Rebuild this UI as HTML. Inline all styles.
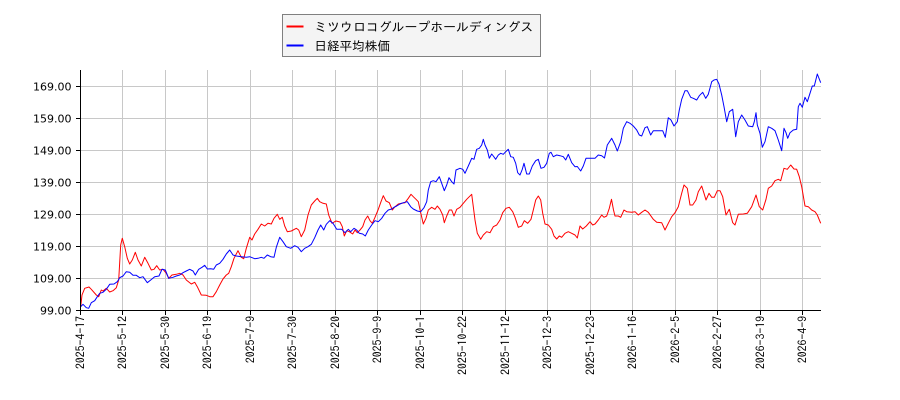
<!DOCTYPE html>
<html><head><meta charset="utf-8"><style>
html,body{margin:0;padding:0;background:#fff;}
svg{display:block;}
.yl{font-family:"DejaVu Sans","Liberation Sans",sans-serif;font-size:11px;fill:#000;}
.xl{font-family:"IPAGothic","DejaVu Sans",sans-serif;font-size:11.7px;fill:#000;}
.lg{font-family:"IPAGothic","Noto Sans CJK JP",sans-serif;font-size:12.6px;fill:#000;}
</style></head><body>
<svg width="900" height="400" viewBox="0 0 900 400" xmlns="http://www.w3.org/2000/svg">
<rect width="900" height="400" fill="#fff"/>
<g stroke="#c8c8c8" stroke-width="1" fill="none">
<path d="M122.5 70V310M165.5 70V310M207.5 70V310M250.5 70V310M292.5 70V310M335.5 70V310M377.5 70V310M420.5 70V310M462.5 70V310M505.5 70V310M547.5 70V310M590.5 70V310M632.5 70V310M675.5 70V310M717.5 70V310M760.5 70V310M802.5 70V310"/>
<path d="M80.5 86.5H821M80.5 118.5H821M80.5 150.5H821M80.5 182.5H821M80.5 214.5H821M80.5 246.5H821M80.5 278.5H821"/>
</g>
<polyline fill="none" stroke="#ff0000" stroke-width="1" stroke-linejoin="round" points="80.7,306.7 82,295 84.7,288.3 89,287 91.3,289.3 96.3,295 98.7,296.7 101.3,290 103,291 106.3,288.3 109.7,292 113,290.7 116.3,287.7 118.7,280 120.7,245 122.3,238.3 124.7,246.7 127.3,258.3 129.7,264 132.3,260 135.3,252.3 138,260 141.3,266 144.7,257.3 148,263.3 151.3,270 154,269.3 156.7,265.7 159.7,270 163,269.3 166.3,273.3 168.7,278.3 172,275 176.3,274.3 179.7,273.3 183,275 186.3,280 191.3,284 194.7,282.3 197.3,286.7 201.3,295 206.3,295.3 209.7,296.7 213,296.7 216.3,291.7 219.7,285 223,279 226.3,275 228.7,273.3 231.3,266.7 234,258.3 238,250.7 241.3,257.3 243.7,258.7 246.3,248.3 249.7,237.3 252,240 254.7,234 258,229.3 261.3,224 264.7,226 268,223.3 271.3,224 274,218.3 277.3,214.3 279.7,219.3 282.3,217.3 284.7,226 287.3,231.7 291.3,231 296.3,228.3 298.7,230 301.3,236.7 304.7,230 308,215 311.3,205 314.7,201 317.3,198.3 319.7,201.7 323,203.3 326.3,204 328.7,215 332,223.3 334.7,221.7 336,221 340,222 342.3,226.7 344.3,236 346.7,230.7 349.3,231.7 352.7,234 355,230 357.3,232.7 360,230 362.7,226.7 365,220 367.7,216 370,220.7 372.3,223.3 375,217.3 378.3,209.3 381,201.7 383.3,195.7 386,201 389.3,202.7 392.3,210 395,206.7 398.3,204 401.7,203.3 405,202.7 408.3,198.3 411,194.3 413.3,196.7 416,199.3 418.3,201.7 420.7,212.7 423.3,224 426,218.3 428.3,210 431.7,207.3 435,209.3 437.3,206 440,209.3 442.7,215 444.3,222.7 446.7,216 449.3,210 451.7,210 454,216 456.7,209.3 460,207.3 463.3,203.3 466.7,199.3 469.3,196.7 471.7,194.3 473.3,206.7 475,220 477.3,233.3 480.7,239.3 483.3,235 486.7,231.7 490,232.7 493.3,226.7 496.7,225 500,220 502.7,212.7 506,208.3 509.3,207.3 512.7,211.7 515,217.3 518.3,227.3 521.7,226 524.3,220.7 527.7,223.3 531,219.3 533.3,210 535.7,200 538.3,196 540.7,200 542.7,213.3 545,224 548.3,225 551.7,229.3 554,236 556.7,239 559.3,236 561.7,237.3 565,233.3 568.3,231.7 571.7,233.3 575,235 577.3,238 580,226 582.7,229 586.3,226 590,221.7 592.7,225 595,224 598.3,220 601.7,215 604,217.3 606.7,216 609.3,208.3 611.5,199.3 613.5,210 615,216 618.3,216 620.7,217.3 624,210 626.7,211.7 631.7,212.3 635,211.7 638.3,215 641.7,212.3 645,210 648.3,212.3 653.3,219.3 656.7,222.3 661.7,222.7 665,230 668.3,223.3 671.7,216.7 675,212.7 678.3,206.7 681.7,193.3 684,185 687.3,188.3 690,205 692.7,205 696,200 698.3,191.7 701.7,186 704,193.3 706,200 709,193.3 711.7,197.3 714.3,197.3 717.3,190.7 720,190.7 722.7,196.7 726,215 729.3,209.3 732.7,222.7 735,225 738.3,214.3 743.3,214 747.3,213.3 751.7,206.7 756,195 759.3,206.7 762.7,210 766,199.3 768.3,188.3 771.7,186 775,180.7 778.3,179.3 780.7,180.7 784,168.3 787.3,169.3 790.7,165 794,169 796.7,169.3 799.3,176.7 801.7,186.7 805,206 808.3,206.7 811.7,210 815,211.7 817.3,215 820.7,223.3"/>
<polyline fill="none" stroke="#0000ff" stroke-width="1" stroke-linejoin="round" points="80.7,306.7 83,304.3 86.3,307.7 88.7,308.3 91.3,302.7 94.7,300.7 97.3,296.7 99.7,293.3 103,292.3 106.3,289.3 109.7,284.3 114,284 117.3,281.7 119.7,277.7 123,276 126.3,271.7 129.7,272.3 133,275.3 136.3,275.3 139.7,277.7 143,276.7 147.3,282.7 150.7,280 154.7,276.7 159,276 162,269.3 165.3,270 168.7,278.3 173,277.3 176.3,276 179.7,275 183,272.7 186.3,271 189.7,269.3 193,271 195.3,275 198.7,269.3 202,267.3 204.7,265.3 207.3,269 210.7,268.7 213.7,269.3 216.3,265 219.7,263.3 223,259.3 226.3,254 229.7,250 233,255 236.3,256 241.3,256.7 246.3,257.3 249.7,256.7 254.7,258.7 258,258.3 261.3,257.3 264,258.3 267.3,255 270.7,256.7 274,257.3 276.3,247.3 279.7,237.3 283,241.7 286.3,246.7 290.7,248.3 294.7,245.7 298,247.3 301.3,251.7 304.7,248.3 308,246.7 311.3,244.3 314.7,237.7 318,230 320.7,225 323.7,230 326.3,224.3 329.7,220.7 333,223.3 336.7,229.3 341.7,229.3 345,232.7 348.3,229.3 350.7,231.7 354,228.3 356.7,230 359.3,233.3 362.7,234 365.3,236 368.3,230 371.7,225 375,220.7 378.3,221.7 381.7,218.3 385,213.3 388.3,210 391.7,209 394,207.3 396.7,206 400,204 403.3,202.7 407.3,201.7 410.7,206.7 413.3,209 417.3,211 420.7,211.7 424,207.7 426.7,201.7 428.3,190 430.7,181.7 433.3,180.7 436,181.7 439.3,176.7 441.7,183.3 444.3,190.7 446.7,185 449,177.7 451.7,181.7 454,184 456,170 460,168.3 462.7,169.3 465,173.3 468.3,166 471.7,158.3 474,159.3 476.7,149.3 479.3,148.3 481.7,145 483.3,139.3 485,145 487.3,150 489.3,158.3 491.7,154 493.3,156 495.7,159.3 498.3,155 500.7,153.3 503.3,154.3 505.7,151.7 508.3,149.3 510.7,156.7 513.3,157.3 515.7,163.3 517.7,172.7 520,175 522.3,169.3 524,163.3 526.7,174 529.3,174 532.3,166 535.7,160.7 538.3,159.3 541,168.3 544,167.3 546.7,163.3 549.3,153.3 551,152.3 553.3,156.7 556.7,155 560,155.7 563.3,156.7 565.7,160 568.3,154.3 571.7,162.7 575,166.7 577.3,166.5 580.7,171 583.3,166 586,158.3 590,158.3 595,158.3 598.3,155 601.7,155.7 604.5,158 607.3,145 611.7,138.3 615,145 617.3,151 620.7,141.7 623.3,128.3 626.7,121.7 630,123.3 633.3,126 636.7,130 639.3,135 641.7,136 645,127.7 647.3,126.7 650.7,135 653.3,130.7 657.3,130.7 662.7,130.7 665.3,137.3 668.3,117.7 671,120 674,126 677.3,121.7 679.3,110 681.7,99.3 685,90.7 687.3,90.7 690.7,97.3 693.3,98.3 696.7,100 699.3,95.7 702.7,92.3 705.7,98.3 708.3,94.3 711.7,81.7 714,80 716.7,79.3 719,84 721.7,95 724,106.7 726.7,121.7 729.3,111.7 732.7,109.3 735.7,136.7 738.3,121.7 741.7,115 745,120 748.3,126 752.7,126.7 754.3,121.7 756,112.7 757.3,125 760,133.3 762.3,147.3 765,141.7 768.3,126.7 771.7,128.3 775,130.7 778.3,140 781.7,150.7 784,128.3 786,132.7 787.7,138.3 790,132.7 793.3,130 796.7,129.3 798.3,106.7 800,103.3 802.3,107.3 805,97.3 807.3,101.7 810,93.3 812.3,86 814.3,86 817.3,74 820.7,82.7"/>
<g stroke="#000" stroke-width="1" fill="none">
<path d="M80.5 70V310.5M80 310.5H821"/>
<path d="M76 86.5H80.5M76 118.5H80.5M76 150.5H80.5M76 182.5H80.5M76 214.5H80.5M76 246.5H80.5M76 278.5H80.5M76 310.5H80.5"/>
<path d="M80.5 310.5V315M122.5 310.5V315M165.5 310.5V315M207.5 310.5V315M250.5 310.5V315M292.5 310.5V315M335.5 310.5V315M377.5 310.5V315M420.5 310.5V315M462.5 310.5V315M505.5 310.5V315M547.5 310.5V315M590.5 310.5V315M632.5 310.5V315M675.5 310.5V315M717.5 310.5V315M760.5 310.5V315M802.5 310.5V315"/>
</g>
<g class="yl" text-anchor="end">
<text x="71.5" y="90.5">169.00</text>
<text x="71.5" y="122.5">159.00</text>
<text x="71.5" y="154.5">149.00</text>
<text x="71.5" y="186.5">139.00</text>
<text x="71.5" y="218.5">129.00</text>
<text x="71.5" y="250.5">119.00</text>
<text x="71.5" y="282.5">109.00</text>
<text x="71.5" y="314.5">99.00</text>
</g>
<g class="xl" text-anchor="end">
<text transform="translate(84.3,316) rotate(-90)" textLength="53" lengthAdjust="spacingAndGlyphs">2025-4-17</text>
<text transform="translate(126.3,316) rotate(-90)" textLength="53" lengthAdjust="spacingAndGlyphs">2025-5-12</text>
<text transform="translate(169.3,316) rotate(-90)" textLength="53" lengthAdjust="spacingAndGlyphs">2025-5-30</text>
<text transform="translate(211.3,316) rotate(-90)" textLength="53" lengthAdjust="spacingAndGlyphs">2025-6-19</text>
<text transform="translate(254.3,316) rotate(-90)" textLength="47.2" lengthAdjust="spacingAndGlyphs">2025-7-9</text>
<text transform="translate(296.3,316) rotate(-90)" textLength="53" lengthAdjust="spacingAndGlyphs">2025-7-30</text>
<text transform="translate(339.3,316) rotate(-90)" textLength="53" lengthAdjust="spacingAndGlyphs">2025-8-20</text>
<text transform="translate(381.3,316) rotate(-90)" textLength="47.2" lengthAdjust="spacingAndGlyphs">2025-9-9</text>
<text transform="translate(424.3,316) rotate(-90)" textLength="53" lengthAdjust="spacingAndGlyphs">2025-10-1</text>
<text transform="translate(466.3,316) rotate(-90)" textLength="58.9" lengthAdjust="spacingAndGlyphs">2025-10-22</text>
<text transform="translate(509.3,316) rotate(-90)" textLength="58.9" lengthAdjust="spacingAndGlyphs">2025-11-12</text>
<text transform="translate(551.3,316) rotate(-90)" textLength="53" lengthAdjust="spacingAndGlyphs">2025-12-3</text>
<text transform="translate(594.3,316) rotate(-90)" textLength="58.9" lengthAdjust="spacingAndGlyphs">2025-12-23</text>
<text transform="translate(636.3,316) rotate(-90)" textLength="53" lengthAdjust="spacingAndGlyphs">2026-1-16</text>
<text transform="translate(679.3,316) rotate(-90)" textLength="47.2" lengthAdjust="spacingAndGlyphs">2026-2-5</text>
<text transform="translate(721.3,316) rotate(-90)" textLength="53" lengthAdjust="spacingAndGlyphs">2026-2-27</text>
<text transform="translate(764.3,316) rotate(-90)" textLength="53" lengthAdjust="spacingAndGlyphs">2026-3-19</text>
<text transform="translate(806.3,316) rotate(-90)" textLength="47.2" lengthAdjust="spacingAndGlyphs">2026-4-9</text>
</g>
<rect x="282.5" y="14.5" width="258" height="42" fill="#f4f4f4" stroke="#808080" stroke-width="1"/>
<line x1="286.5" y1="26.5" x2="303.5" y2="26.5" stroke="#ff0000" stroke-width="2"/>
<line x1="286.5" y1="45.5" x2="303.5" y2="45.5" stroke="#0000ff" stroke-width="2"/>
<text class="lg" x="314.3" y="31.5" textLength="219" lengthAdjust="spacingAndGlyphs">ミツウロコグループホールディングス</text>
<text class="lg" x="314.3" y="50.3" textLength="75.7" lengthAdjust="spacingAndGlyphs">日経平均株価</text>
</svg>
</body></html>
